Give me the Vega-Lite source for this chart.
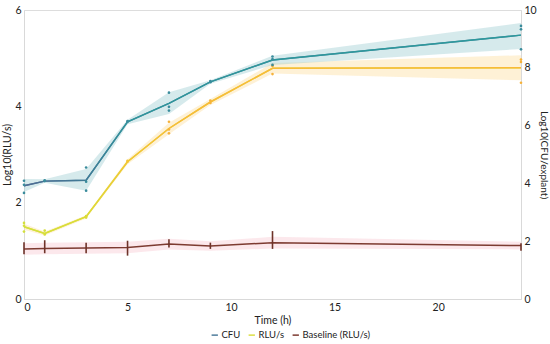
{
  "$schema": "https://vega.github.io/schema/vega-lite/v6.json",
  "width": 497,
  "height": 289,
  "autosize": "none",
  "padding": {"left": 24, "top": 10, "right": 29, "bottom": 45},
  "config": {
    "font": "Lato",
    "view": {"stroke": "#dddddd"},
    "axis": {"grid": false, "domainColor": "#d9d9d9", "ticks": false, "labelFontSize": 10.5, "titleFontSize": 10.5, "labelColor": "#222222", "titleColor": "#222222", "titleFontWeight": "normal"},
    "legend": {"labelFontSize": 9.5, "labelColor": "#222222", "symbolType": "stroke", "symbolStrokeWidth": 1.5, "symbolSize": 40, "columnPadding": 4, "labelOffset": 2}
  },
  "datasets": {
    "summary": [
      {"series": "CFU", "time": 0, "mean": 3.92, "lo": 3.70, "hi": 4.15},
      {"series": "CFU", "time": 1, "mean": 4.08, "lo": 4.02, "hi": 4.14},
      {"series": "CFU", "time": 3, "mean": 4.11, "lo": 3.75, "hi": 4.50},
      {"series": "CFU", "time": 5, "mean": 6.13, "lo": 6.05, "hi": 6.20},
      {"series": "CFU", "time": 7, "mean": 6.77, "lo": 6.40, "hi": 7.15},
      {"series": "CFU", "time": 9, "mean": 7.51, "lo": 7.45, "hi": 7.57},
      {"series": "CFU", "time": 12, "mean": 8.27, "lo": 8.10, "hi": 8.42},
      {"series": "CFU", "time": 24, "mean": 9.13, "lo": 8.65, "hi": 9.55},
      {"series": "RLU/s", "time": 0, "mean": 1.50, "lo": 1.44, "hi": 1.56},
      {"series": "RLU/s", "time": 1, "mean": 1.36, "lo": 1.32, "hi": 1.40},
      {"series": "RLU/s", "time": 3, "mean": 1.71, "lo": 1.67, "hi": 1.74},
      {"series": "RLU/s", "time": 5, "mean": 2.85, "lo": 2.80, "hi": 2.90},
      {"series": "RLU/s", "time": 7, "mean": 3.54, "lo": 3.42, "hi": 3.66},
      {"series": "RLU/s", "time": 9, "mean": 4.09, "lo": 4.03, "hi": 4.15},
      {"series": "RLU/s", "time": 12, "mean": 4.79, "lo": 4.68, "hi": 4.90},
      {"series": "RLU/s", "time": 24, "mean": 4.80, "lo": 4.54, "hi": 5.06},
      {"series": "Baseline (RLU/s)", "time": 0, "mean": 1.04, "lo": 0.92, "hi": 1.16, "barLo": 0.93, "barHi": 1.18},
      {"series": "Baseline (RLU/s)", "time": 1, "mean": 1.05, "lo": 0.93, "hi": 1.17, "barLo": 0.95, "barHi": 1.22},
      {"series": "Baseline (RLU/s)", "time": 3, "mean": 1.06, "lo": 0.94, "hi": 1.18, "barLo": 0.95, "barHi": 1.17},
      {"series": "Baseline (RLU/s)", "time": 5, "mean": 1.07, "lo": 0.95, "hi": 1.19, "barLo": 0.90, "barHi": 1.21},
      {"series": "Baseline (RLU/s)", "time": 7, "mean": 1.14, "lo": 1.03, "hi": 1.25, "barLo": 1.07, "barHi": 1.24},
      {"series": "Baseline (RLU/s)", "time": 9, "mean": 1.10, "lo": 1.00, "hi": 1.20, "barLo": 1.04, "barHi": 1.17},
      {"series": "Baseline (RLU/s)", "time": 12, "mean": 1.17, "lo": 1.05, "hi": 1.29, "barLo": 1.04, "barHi": 1.41},
      {"series": "Baseline (RLU/s)", "time": 24, "mean": 1.11, "lo": 1.03, "hi": 1.19, "barLo": 1.00, "barHi": 1.16}
    ],
    "reps": [
      {"series": "CFU", "time": 0, "value": 4.09},
      {"series": "CFU", "time": 0, "value": 3.67},
      {"series": "CFU", "time": 0, "value": 3.95},
      {"series": "CFU", "time": 1, "value": 4.08},
      {"series": "CFU", "time": 1, "value": 4.11},
      {"series": "CFU", "time": 3, "value": 4.55},
      {"series": "CFU", "time": 3, "value": 4.06},
      {"series": "CFU", "time": 3, "value": 3.75},
      {"series": "CFU", "time": 5, "value": 6.13},
      {"series": "CFU", "time": 5, "value": 6.16},
      {"series": "CFU", "time": 7, "value": 7.14},
      {"series": "CFU", "time": 7, "value": 6.65},
      {"series": "CFU", "time": 7, "value": 6.52},
      {"series": "CFU", "time": 9, "value": 7.50},
      {"series": "CFU", "time": 9, "value": 7.54},
      {"series": "CFU", "time": 12, "value": 8.39},
      {"series": "CFU", "time": 12, "value": 8.10},
      {"series": "CFU", "time": 12, "value": 8.30},
      {"series": "CFU", "time": 24, "value": 9.45},
      {"series": "CFU", "time": 24, "value": 9.33},
      {"series": "CFU", "time": 24, "value": 8.64},
      {"series": "RLU/s", "time": 0, "value": 1.58},
      {"series": "RLU/s", "time": 0, "value": 1.40},
      {"series": "RLU/s", "time": 0, "value": 1.52},
      {"series": "RLU/s", "time": 1, "value": 1.42},
      {"series": "RLU/s", "time": 1, "value": 1.34},
      {"series": "RLU/s", "time": 3, "value": 1.72},
      {"series": "RLU/s", "time": 3, "value": 1.69},
      {"series": "RLU/s", "time": 5, "value": 2.85},
      {"series": "RLU/s", "time": 5, "value": 2.87},
      {"series": "RLU/s", "time": 7, "value": 3.68},
      {"series": "RLU/s", "time": 7, "value": 3.44},
      {"series": "RLU/s", "time": 7, "value": 3.52},
      {"series": "RLU/s", "time": 9, "value": 4.12},
      {"series": "RLU/s", "time": 9, "value": 4.07},
      {"series": "RLU/s", "time": 12, "value": 4.85},
      {"series": "RLU/s", "time": 12, "value": 4.67},
      {"series": "RLU/s", "time": 12, "value": 4.84},
      {"series": "RLU/s", "time": 24, "value": 4.97},
      {"series": "RLU/s", "time": 24, "value": 4.92},
      {"series": "RLU/s", "time": 24, "value": 4.49}
    ]
  },
  "layer": [
    {
      "layer": [
        {
          "data": {"name": "summary"},
          "transform": [{"filter": "datum.series == 'Baseline (RLU/s)'"}],
          "mark": {"type": "area", "color": "#f7bcc8", "opacity": 0.35},
          "encoding": {
            "x": {"field": "time", "type": "quantitative", "scale": {"domain": [0, 24], "nice": false}, "axis": {"values": [0, 5, 10, 15, 20], "title": "Time (h)", "labelPadding": 3, "titlePadding": 3}},
            "y": {"field": "lo", "type": "quantitative", "scale": {"domain": [0, 6], "nice": false}, "title": "Log10(RLU/s)", "axis": {"orient": "left", "values": [0, 2, 4, 6], "labelPadding": 3, "titlePadding": 2}},
            "y2": {"field": "hi"}
          }
        },
        {
          "data": {"name": "summary"},
          "transform": [{"filter": "datum.series == 'RLU/s'"}],
          "mark": {"type": "area", "color": "#fcd993", "opacity": 0.38},
          "encoding": {
            "x": {"field": "time", "type": "quantitative"},
            "y": {"field": "lo", "type": "quantitative", "title": "Log10(RLU/s)"},
            "y2": {"field": "hi"}
          }
        },
        {
          "data": {"name": "summary"},
          "transform": [{"filter": "datum.series != 'CFU'"}],
          "mark": {"type": "line", "strokeWidth": 1.5},
          "encoding": {
            "x": {"field": "time", "type": "quantitative"},
            "y": {"field": "mean", "type": "quantitative", "title": "Log10(RLU/s)"},
            "color": {"field": "series", "type": "nominal", "scale": {"domain": ["CFU", "RLU/s", "Baseline (RLU/s)"], "range": ["#4f7d9c", "#dcdf45", "#7d3b31"]}, "legend": {"orient": "none", "direction": "horizontal", "title": null, "legendX": 186, "legendY": 320}}
          }
        },
        {
          "data": {"name": "summary"},
          "transform": [{"filter": "datum.series == 'RLU/s'"}],
          "mark": {"type": "line", "strokeWidth": 1.5, "stroke": {"gradient": "linear", "x1": 0, "x2": 1, "y1": 0, "y2": 0, "stops": [{"offset": 0, "color": "#d3e03c"}, {"offset": 0.125, "color": "#dcdb38"}, {"offset": 0.21, "color": "#f3c535"}, {"offset": 0.3, "color": "#f9ba38"}, {"offset": 1, "color": "#f9ba38"}]}},
          "encoding": {
            "x": {"field": "time", "type": "quantitative"},
            "y": {"field": "mean", "type": "quantitative", "title": "Log10(RLU/s)"}
          }
        },
        {
          "data": {"name": "summary"},
          "transform": [{"filter": "datum.series == 'Baseline (RLU/s)'"}],
          "mark": {"type": "rule", "color": "#6e3329", "strokeWidth": 1.6},
          "encoding": {
            "x": {"field": "time", "type": "quantitative"},
            "y": {"field": "barLo", "type": "quantitative", "title": "Log10(RLU/s)"},
            "y2": {"field": "barHi"}
          }
        },
        {
          "data": {"name": "reps"},
          "transform": [{"filter": "datum.series == 'RLU/s'"}],
          "mark": {"type": "point", "filled": true, "size": 7, "opacity": 1},
          "encoding": {
            "x": {"field": "time", "type": "quantitative"},
            "y": {"field": "value", "type": "quantitative", "title": "Log10(RLU/s)"},
            "fill": {"field": "time", "type": "quantitative", "scale": {"domain": [0, 3, 5, 7, 24], "range": ["#d3e03c", "#dcdb38", "#f3c535", "#f6b23a", "#f6b23a"]}, "legend": null}
          }
        }
      ]
    },
    {
      "layer": [
        {
          "data": {"name": "summary"},
          "transform": [{"filter": "datum.series == 'CFU'"}],
          "mark": {"type": "area", "color": "#a3d0d4", "opacity": 0.45},
          "encoding": {
            "x": {"field": "time", "type": "quantitative"},
            "y": {"field": "lo", "type": "quantitative", "scale": {"domain": [0, 10], "nice": false}, "title": "Log10(CFU/explant)", "axis": {"orient": "right", "values": [0, 2, 4, 6, 8, 10], "labelPadding": 3, "titlePadding": 2, "titleFontSize": 10}},
            "y2": {"field": "hi"}
          }
        },
        {
          "data": {"name": "summary"},
          "transform": [{"filter": "datum.series == 'CFU'"}],
          "mark": {"type": "line", "strokeWidth": 1.4},
          "encoding": {
            "x": {"field": "time", "type": "quantitative"},
            "y": {"field": "mean", "type": "quantitative", "title": "Log10(CFU/explant)"},
            "color": {"field": "series", "type": "nominal"}
          }
        },
        {
          "data": {"name": "summary"},
          "transform": [{"filter": "datum.series == 'CFU'"}],
          "mark": {"type": "line", "strokeWidth": 1.4, "stroke": {"gradient": "linear", "x1": 0, "x2": 1, "y1": 0, "y2": 0, "stops": [{"offset": 0, "color": "#506a92"}, {"offset": 0.125, "color": "#3f7b96"}, {"offset": 0.21, "color": "#2d969b"}, {"offset": 1, "color": "#2b9a9c"}]}},
          "encoding": {
            "x": {"field": "time", "type": "quantitative"},
            "y": {"field": "mean", "type": "quantitative", "title": "Log10(CFU/explant)"}
          }
        },
        {
          "data": {"name": "reps"},
          "transform": [{"filter": "datum.series == 'CFU'"}],
          "mark": {"type": "point", "filled": true, "size": 7, "opacity": 1, "color": "#3a8c9c"},
          "encoding": {
            "x": {"field": "time", "type": "quantitative"},
            "y": {"field": "value", "type": "quantitative", "title": "Log10(CFU/explant)"}
          }
        }
      ]
    }
  ],
  "resolve": {"scale": {"y": "independent"}}
}
